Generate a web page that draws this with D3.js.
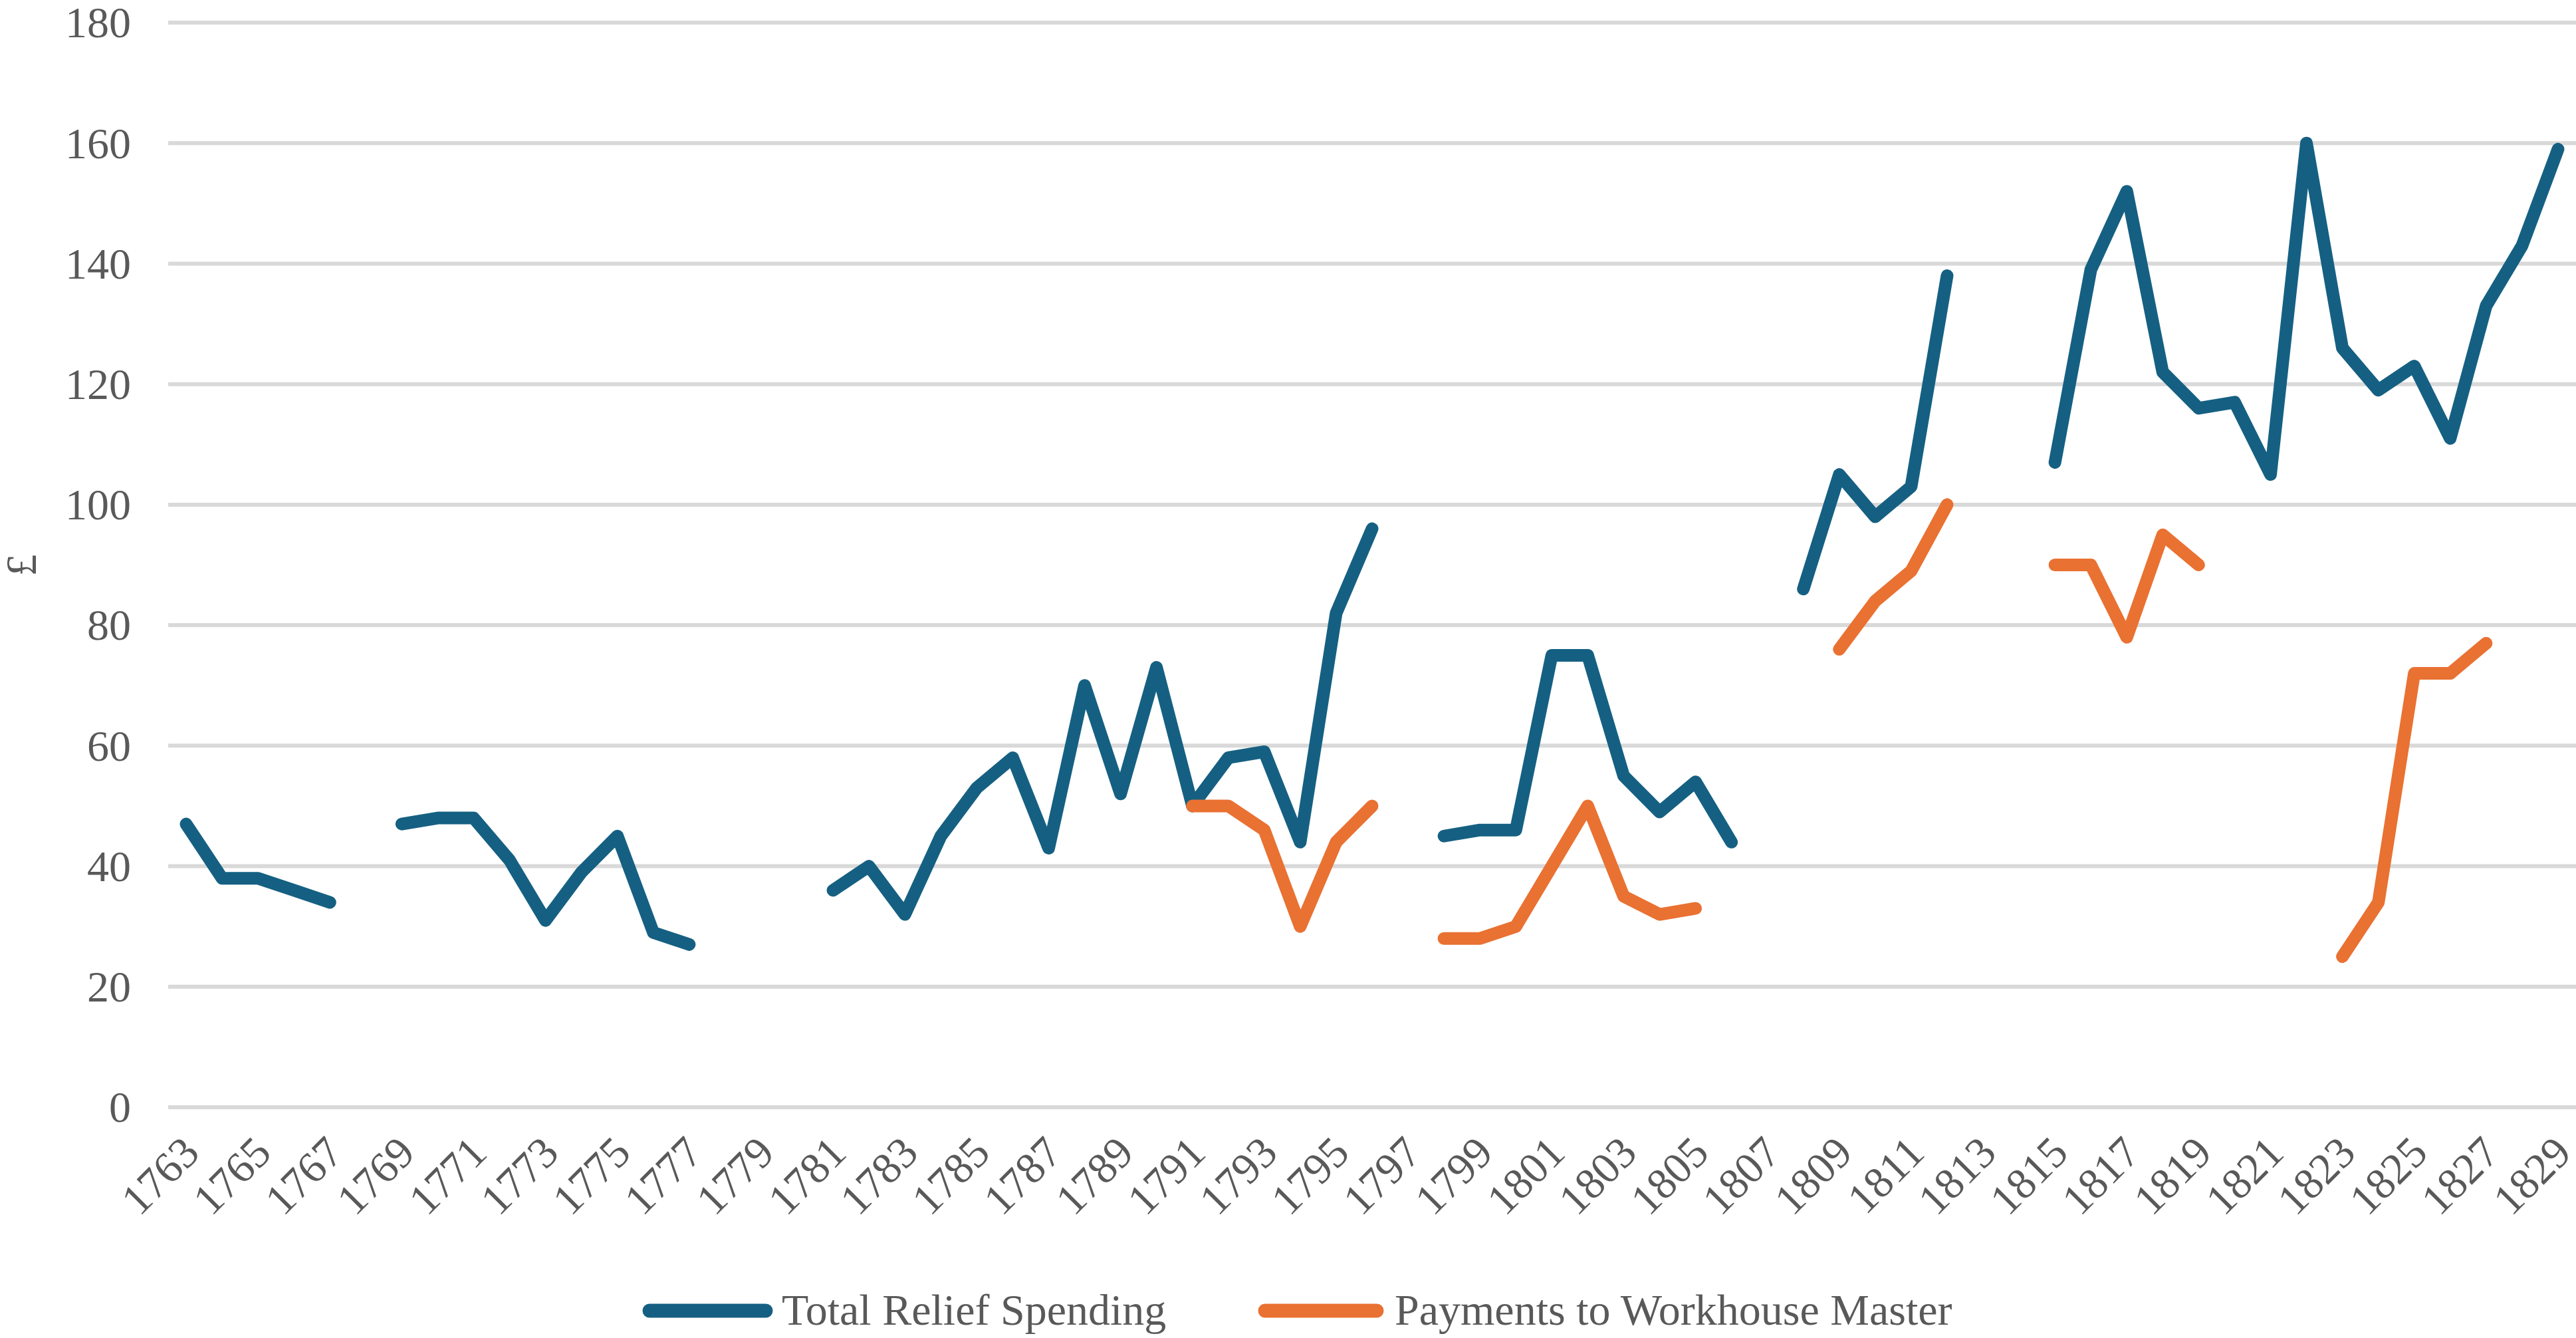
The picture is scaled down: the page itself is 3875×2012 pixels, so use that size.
<!DOCTYPE html>
<html>
<head>
<meta charset="utf-8">
<script src="https://cdn.jsdelivr.net/npm/d3@7/dist/d3.min.js"></script>
<style>
  html, body { margin: 0; padding: 0; background: #ffffff; }
  svg { display: block; }
  text { font-family: "Liberation Serif", "Times New Roman", serif; fill: #595959; }
</style>
</head>
<body>
<svg id="chart" width="3875" height="2012"></svg>
<script>
// ---- Data ----
const years = d3.range(1763, 1830).map(String);

const seriesNames = ["Total Relief Spending", "Payments to Workhouse Master"];
const seriesColors = ["#156082", "#E97132"];

// Total Relief Spending, 1763..1829 (null = no data)
const totalRelief = [
  47, 38, 38, 36, 34, null, 47, 48, 48, 41,   // 1763-1772
  31, 39, 45, 29, 27, null, null, null, 36, 40, // 1773-1782
  32, 45, 53, 58, 43, 70, 52, 73, 50, 58,     // 1783-1792
  59, 44, 82, 96, null, 45, 46, 46, 75, 75,   // 1793-1802
  55, 49, 54, 44, null, 86, 105, 98, 103, 138, // 1803-1812
  null, null, 107, 139, 152, 122, 116, 117, 105, 160, // 1813-1822
  126, 119, 123, 111, 133, 143, 159           // 1823-1829
];

// Payments to Workhouse Master, 1763..1829
const workhouseMaster = [
  null, null, null, null, null, null, null, null, null, null, // 1763-1772
  null, null, null, null, null, null, null, null, null, null, // 1773-1782
  null, null, null, null, null, null, null, null, 50, 50,     // 1783-1792
  46, 30, 44, 50, null, 28, 28, 30, 40, 50,                   // 1793-1802
  35, 32, 33, null, null, null, 76, 84, 89, 100,              // 1803-1812
  null, null, 90, 90, 78, 95, 90, null, null, null,           // 1813-1822
  25, 34, 72, 72, 77, null, null                              // 1823-1829
];

const yTicks = [0, 20, 40, 60, 80, 100, 120, 140, 160, 180];
const yAxisTitle = "£";

// ---- Layout ----
const svg = d3.select("#chart");
const plot = { left: 253, right: 3875, top: 34, bottom: 1665 };

const x = d3.scaleBand().domain(years).range([plot.left, plot.right]).padding(0);
const y = d3.scaleLinear().domain([0, 180]).range([plot.bottom, plot.top]);
const cx = d => x(d) + x.bandwidth() / 2;

// Gridlines
svg.append("g")
  .selectAll("line")
  .data(yTicks)
  .join("line")
  .attr("x1", plot.left)
  .attr("x2", plot.right)
  .attr("y1", d => y(d))
  .attr("y2", d => y(d))
  .attr("stroke", "#D9D9D9")
  .attr("stroke-width", 6);

// Y axis labels
const yAxis = d3.axisLeft(y).tickValues(yTicks).tickSize(0).tickPadding(0);
const yg = svg.append("g").attr("transform", `translate(197,0)`).call(yAxis);
yg.select(".domain").remove();
yg.selectAll("text")
  .attr("font-size", 66)
  .attr("fill", "#595959")
  .attr("font-family", "Liberation Serif, serif")
  .attr("dy", "0.33em");

// Y axis title
svg.append("text")
  .attr("transform", "translate(54,850) rotate(-90)")
  .attr("text-anchor", "middle")
  .attr("font-size", 66)
  .text(yAxisTitle);

// X axis labels (every other year)
const xAxis = d3.axisBottom(x)
  .tickValues(years.filter((d, i) => i % 2 === 0))
  .tickSize(0)
  .tickPadding(0);
const xg = svg.append("g").attr("transform", `translate(0,0)`).call(xAxis);
xg.select(".domain").remove();
xg.selectAll(".tick").attr("transform", d => `translate(${cx(d) + 23},1737)`);
xg.selectAll("text")
  .attr("font-size", 66)
  .attr("fill", "#595959")
  .attr("font-family", "Liberation Serif, serif")
  .attr("y", 0)
  .attr("dy", 0)
  .attr("text-anchor", "end")
  .attr("transform", "rotate(-45)");

// Lines
const line = d3.line()
  .defined(d => d.v !== null)
  .x(d => cx(d.year))
  .y(d => y(d.v));

const allSeries = [totalRelief, workhouseMaster];
allSeries.forEach((vals, si) => {
  const pts = years.map((yr, i) => ({ year: yr, v: vals[i] }));
  svg.append("path")
    .datum(pts)
    .attr("d", line)
    .attr("fill", "none")
    .attr("stroke", seriesColors[si])
    .attr("stroke-width", 19)
    .attr("stroke-linejoin", "round")
    .attr("stroke-linecap", "round");
});

// Legend
const legendItems = [
  { x1: 977, x2: 1152, tx: 1176 },
  { x1: 1903, x2: 2071, tx: 2098 }
];
const lg = svg.append("g");
legendItems.forEach((it, i) => {
  lg.append("line")
    .attr("x1", it.x1).attr("x2", it.x2)
    .attr("y1", 1971).attr("y2", 1971)
    .attr("stroke", seriesColors[i])
    .attr("stroke-width", 21)
    .attr("stroke-linecap", "round");
  lg.append("text")
    .attr("x", it.tx)
    .attr("y", 1992)
    .attr("font-size", 66)
    .text(seriesNames[i]);
});
</script>
</body>
</html>
